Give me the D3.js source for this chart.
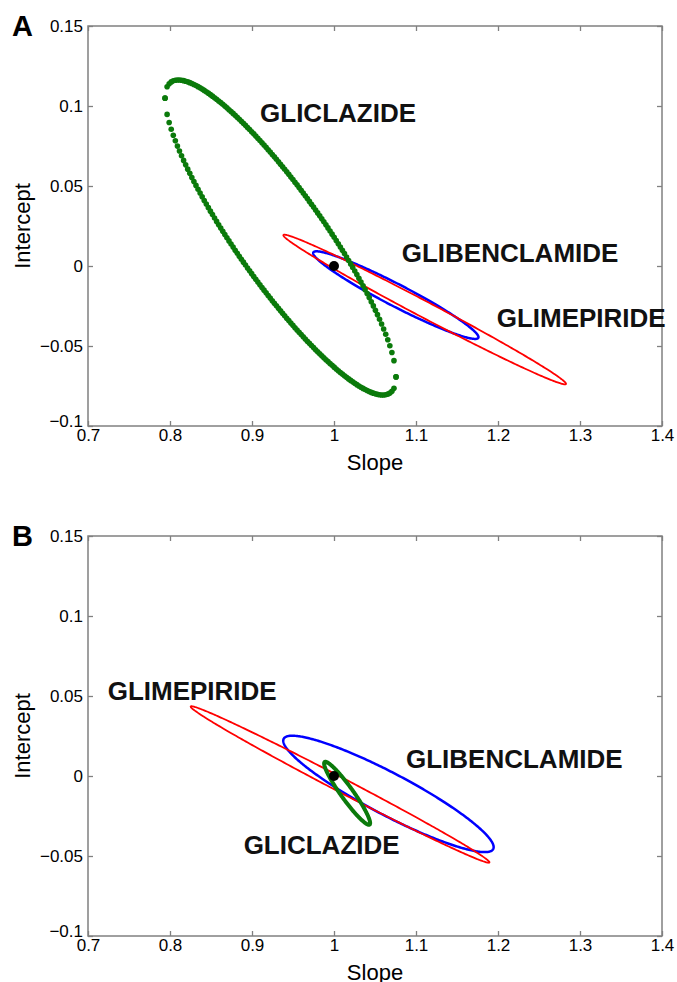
<!DOCTYPE html>
<html>
<head>
<meta charset="utf-8">
<script src="https://cdn.jsdelivr.net/npm/d3@7"></script>
<style>
  body { margin: 0; background: #fff; }
  svg { display: block; font-family: "Liberation Sans", Arial, sans-serif; }
</style>
</head>
<body>
<svg id="chart" width="677" height="982"></svg>
<script>
// tick values
const slopeTicks = [0.7, 0.8, 0.9, 1.0, 1.1, 1.2, 1.3, 1.4];
const interceptTicks = [-0.1, -0.05, 0, 0.05, 0.1, 0.15];

const panelNames = ["A", "B"];
const drugs = ["GLICLAZIDE", "GLIBENCLAMIDE", "GLIMEPIRIDE"];

// joint confidence regions: centre [slope, intercept] and spread [s_xx, s_xy, s_yy]
const centreA = [[0.9348, 0.0178], [1.0754, -0.0182], [1.1106, -0.0272]];
const spreadA = [[0.019839, -0.012271, 0.0096898], [0.010160, -0.0026474, 0.0007495], [0.029708, -0.008002, 0.0021876]];
const centreB = [[1.016, -0.0108], [1.0664, -0.0112], [1.0074, -0.0053]];
const spreadB = [[0.000787, -0.000522, 0.0003875], [0.016459, -0.004266, 0.001323], [0.033187, -0.0088635, 0.0023916]];

// where each drug name is written (data units, left edge / baseline)
const labelAtA = [[0.9098, 0.090], [1.0826, 0.0025], [1.1984, -0.0381]];
const labelAtB = [[0.8898, -0.04875], [1.0878, 0.005], [0.724, 0.0475]];

// ideal line of identity: slope 1, intercept 0
const idealPoint = [1, 0];

const drugColor = { GLICLAZIDE: "#0b7a0b", GLIBENCLAMIDE: "#0000ff", GLIMEPIRIDE: "#ff0000" };
const drugWidth = { GLICLAZIDE: 4, GLIBENCLAMIDE: 2.5, GLIMEPIRIDE: 1.8 };
const drawOrder = ["GLIBENCLAMIDE", "GLIMEPIRIDE", "GLICLAZIDE"];

const panels = [
  { name: panelNames[0], centre: centreA, spread: spreadA, labelAt: labelAtA, dotted: "GLICLAZIDE" },
  { name: panelNames[1], centre: centreB, spread: spreadB, labelAt: labelAtB, dotted: null }
];

const svg = d3.select("#chart");
const panelShift = 510;
const boxColor = "#808080";

const x = d3.scaleLinear().domain([0.7, 1.4]).range([88, 662]);
const y = d3.scaleLinear().domain([-0.1, 0.15]).range([426, 26]);

// point on the ellipse for parameter t
function ring(c, s, t) {
  const sx = Math.sqrt(s[0]);
  const k = s[1] / sx;
  const sy = Math.sqrt(s[2] - k * k);
  return [c[0] + sx * Math.cos(t), c[1] + k * Math.cos(t) + sy * Math.sin(t)];
}

const line = d3.line()
  .x(d => x(d[0]))
  .y(d => y(d[1]))
  .curve(d3.curveLinearClosed);

panels.forEach((p, pi) => {
  const g = svg.append("g").attr("transform", `translate(0,${pi * panelShift})`);

  // axes (MATLAB style, ticks pointing in on every side)
  const fmt = d => d3.format("")(+d.toFixed(2));
  g.append("g").attr("class", "xaxis")
    .attr("transform", `translate(0,${y.range()[0]})`)
    .call(d3.axisBottom(x).tickValues(slopeTicks).tickSizeInner(-5).tickSizeOuter(0).tickPadding(3).tickFormat(fmt));
  g.append("g")
    .attr("transform", `translate(0,${y.range()[1]})`)
    .call(d3.axisTop(x).tickValues(slopeTicks).tickSizeInner(-5).tickSizeOuter(0).tickFormat(""));
  g.append("g").attr("class", "yaxis")
    .attr("transform", `translate(${x.range()[0]},0)`)
    .call(d3.axisLeft(y).tickValues(interceptTicks).tickSizeInner(-5).tickSizeOuter(0).tickPadding(5).tickFormat(fmt));
  g.append("g")
    .attr("transform", `translate(${x.range()[1]},0)`)
    .call(d3.axisRight(y).tickValues(interceptTicks).tickSizeInner(-5).tickSizeOuter(0).tickFormat(""));

  g.selectAll(".domain").remove();
  g.selectAll(".tick line").attr("stroke", boxColor).attr("stroke-width", 1.3);
  g.selectAll(".tick text").attr("fill", "#000").attr("font-size", 17)
    .attr("font-family", "'Liberation Sans', Arial, sans-serif");
  // MATLAB lifts the lowest intercept label a little
  g.select(".yaxis").selectAll(".tick text").filter(d => d === -0.1).attr("dy", "0.05em");

  g.append("rect")
    .attr("x", x.range()[0]).attr("y", y.range()[1])
    .attr("width", x.range()[1] - x.range()[0])
    .attr("height", y.range()[0] - y.range()[1])
    .attr("fill", "none").attr("stroke", boxColor).attr("stroke-width", 1.5);

  // confidence ellipses
  drawOrder.forEach(drug => {
    const i = drugs.indexOf(drug);
    const c = p.centre[i], s = p.spread[i];
    if (p.dotted === drug) {
      // sampled along the slope axis, one dot per step, upper and lower branch
      const n = 112;
      const pts = [];
      d3.range(n + 1).forEach(j => {
        const t = Math.acos(1 - 2 * j / n);
        pts.push(ring(c, s, t), ring(c, s, -t));
      });
      g.append("g").selectAll("circle").data(pts).join("circle")
        .attr("cx", d => x(d[0])).attr("cy", d => y(d[1]))
        .attr("r", 2.8).attr("fill", drugColor[drug]);
    } else {
      const pts = d3.range(0, 2 * Math.PI, Math.PI / 180).map(t => ring(c, s, t));
      g.append("path").datum(pts)
        .attr("d", line)
        .attr("fill", "none")
        .attr("stroke", drugColor[drug])
        .attr("stroke-width", drugWidth[drug]);
    }
  });

  g.append("circle")
    .attr("cx", x(idealPoint[0])).attr("cy", y(idealPoint[1]))
    .attr("r", 5).attr("fill", "#000");

  // drug names
  g.selectAll(".drug").data(drugs).join("text")
    .attr("class", "drug")
    .attr("x", (d, i) => x(p.labelAt[i][0]))
    .attr("y", (d, i) => y(p.labelAt[i][1]))
    .attr("font-size", 26).attr("font-weight", "bold").attr("fill", "#111")
    .text(d => d);

  // axis titles and panel letter
  g.append("text")
    .attr("x", (x.range()[0] + x.range()[1]) / 2).attr("y", 470)
    .attr("text-anchor", "middle").attr("font-size", 22)
    .text("Slope");
  g.append("text")
    .attr("transform", `translate(30,${(y.range()[0] + y.range()[1]) / 2}) rotate(-90)`)
    .attr("text-anchor", "middle").attr("font-size", 22)
    .text("Intercept");
  g.append("text")
    .attr("x", 12).attr("y", 36)
    .attr("font-size", 29).attr("font-weight", "bold")
    .text(p.name);
});
</script>
</body>
</html>
